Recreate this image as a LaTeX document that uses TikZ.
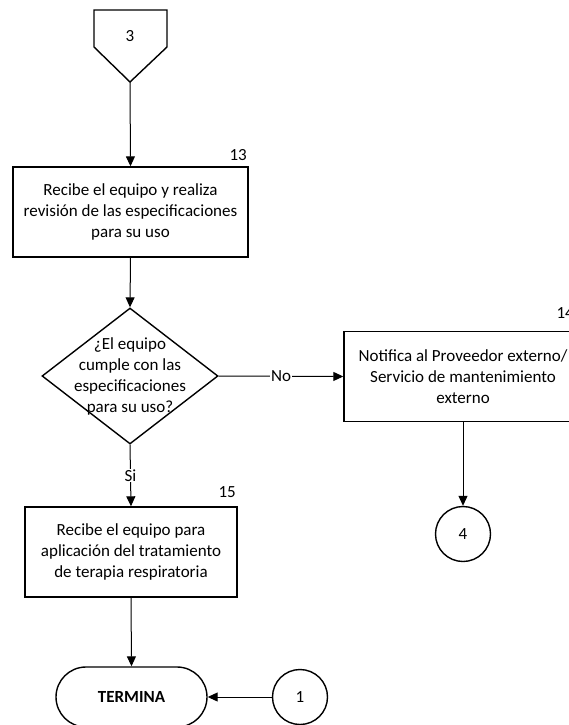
\documentclass[tikz,border=0pt]{standalone}
\usepackage{fontspec}
\setmainfont{Carlito}
\usetikzlibrary{shapes.geometric,arrows.meta}
\begin{document}
\begin{tikzpicture}[x=1pt,y=-1pt,
  font=\fontsize{17}{21}\selectfont,
  line/.style={draw=black,line width=1pt},
  arr/.style={line,-{Triangle[length=10pt,width=9pt]}},
  proc/.style={draw=black,line width=1.4pt,rectangle,minimum height=90pt,align=center,inner sep=2pt},
  conn/.style={draw=black,line width=1.4pt,circle,minimum size=55pt,inner sep=0pt},
  numlab/.style={inner sep=0pt,anchor=east},
  lab/.style={fill=white,inner sep=1pt}]
\clip (0,0) rectangle (569,725);
\useasboundingbox (0,0) rectangle (569,725);
% off-page connector
\draw[line width=1.4pt,line join=miter] (94,10) -- (167,10) -- (167,47) -- (130,82) -- (94,47) -- cycle;
\node (c3) at (130,36) {3};
\coordinate (c3tip) at (130,82);
% box 13
\node[proc,minimum width=235pt] (b1) at (130.5,212) {Recibe el equipo y realiza\\revisión de las especificaciones\\para su uso};
\node[numlab] (n13) at (247,155) {13};
% decision
\node[diamond,draw=black,line width=1.4pt,minimum width=176pt,minimum height=136pt,inner sep=0pt] (d) at (130,376) {};
\node[align=center,inner sep=0pt] (dt) at (130,376) {¿El equipo\\cumple con las\\especificaciones\\para su uso?};
% box 14
\node[proc,minimum width=238pt] (b14) at (463,376.5) {Notifica al Proveedor externo/\\Servicio de mantenimiento\\externo};
\node[numlab] (n14) at (574,313) {14};
% connector 4
\node[conn] (c4) at (463,534) {4};
% box 15
\node[proc,minimum width=212pt] (b15) at (131,552) {Recibe el equipo para\\aplicación del tratamiento\\de terapia respiratoria};
\node[numlab] (n15) at (236,492) {15};
% terminal
\node[draw=black,line width=1.4pt,rectangle,rounded corners=30pt,minimum width=151pt,minimum height=60pt,font=\fontsize{17}{21}\selectfont\bfseries] (term) at (131.5,697) {TERMINA};
\node[conn] (c1) at (300,697) {1};
% connectors
\draw[arr] (c3tip) -- (b1.north);
\draw[arr] (b1.south) -- (d.north);
\draw[arr] (d.east) -- node[lab] (no) {No} (b14.west);
\draw[arr] (d.south) -- node[lab] (si) {Si} (b15.north);
\draw[arr] (b14.south) -- (c4.north);
\draw[arr] (b15.south) -- (term.north);
\draw[arr] (c1.west) -- (term.east);
\end{tikzpicture}
\end{document}
